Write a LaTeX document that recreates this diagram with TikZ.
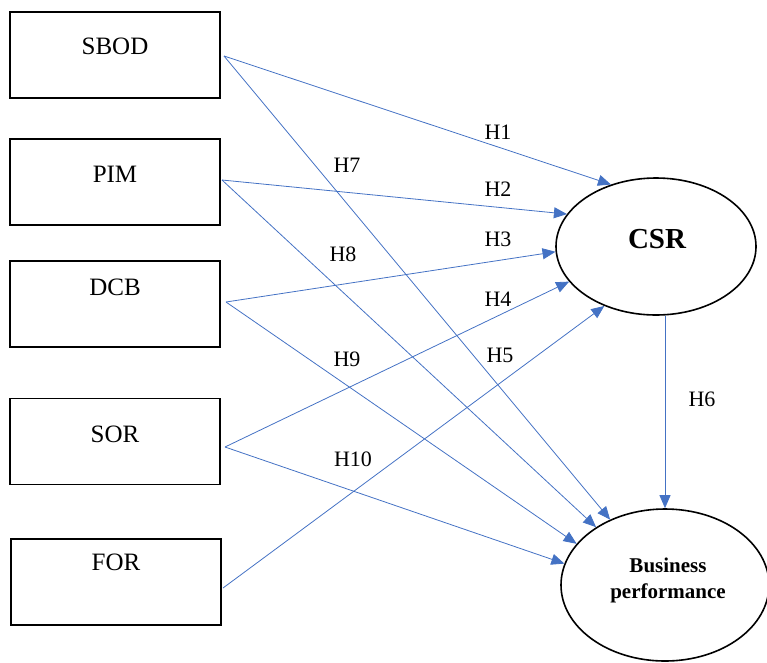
\documentclass[tikz,border=0pt]{standalone}
\usepackage{fontspec}
\setmainfont{Liberation Serif}
\usetikzlibrary{arrows.meta,shapes.geometric}
\definecolor{linkblue}{HTML}{4472C4}
\begin{document}
\begin{tikzpicture}[x=1pt,y=-1pt,
  varbox/.style={draw=black, line width=1.6pt, minimum width=210pt, minimum height=86pt, inner sep=0pt},
  construct/.style={draw=black, line width=1.6pt, ellipse, inner sep=0pt},
  boxtext/.style={font=\fontsize{25}{30}\selectfont, inner sep=0pt},
  hyp/.style={font=\fontsize{22}{26}\selectfont, inner sep=0pt},
  link/.style={draw=linkblue, line width=0.8pt, -{Triangle[length=13pt,width=11pt]}},
]
\useasboundingbox (0,0) rectangle (767,662);

% independent variables
\node[varbox] (sbod) at (115,55) {};
\node[varbox] (pim)  at (115,182) {};
\node[varbox] (dcb)  at (115,304) {};
\node[varbox] (sor)  at (115,441.5) {};
\node[varbox] (for)  at (116,582) {};

\node[boxtext] (sbodt) at (115,46) {SBOD};
\node[boxtext] (pimt)  at (115,174) {PIM};
\node[boxtext] (dcbt)  at (115,287) {DCB};
\node[boxtext] (sort)  at (115,434) {SOR};
\node[boxtext] (fort)  at (116,562) {FOR};

% mediator and outcome
\node[construct, minimum width=200pt, minimum height=137pt] (csr) at (656,246.5) {};
\node[font=\fontsize{29}{34}\selectfont\bfseries, inner sep=0pt] (csrt) at (657,239) {CSR};
\node[construct, minimum width=208pt, minimum height=152pt] (bp) at (665,585) {};
\node[font=\fontsize{21}{26}\selectfont\bfseries, inner sep=0pt, anchor=base] (bpt1) at (668,572) {Business};
\node[font=\fontsize{21}{26}\selectfont\bfseries, inner sep=0pt, anchor=base] (bpt2) at (668,598) {performance};

% line origins just right of each box
\coordinate (o1) at (224,56);
\coordinate (o2) at (222,180);
\coordinate (o3) at (226,302);
\coordinate (o4) at (225,447);
\coordinate (o5) at (223,588);

% paths to CSR
\draw[link] (o1) -- (csr.126.3);
\draw[link] (o2) -- (csr.160.2);
\draw[link] (o3) -- (csr.183);
\draw[link] (o4) -- (csr.202.9);
\draw[link] (o5) -- (csr.229.3);

% paths to business performance
\draw[link] (o1) -- (bp.130.1);
\draw[link] (o2) -- (bp.140.8);
\draw[link] (o3) -- (bp.155.1);
\draw[link] (o4) -- (bp.168.9);
\draw[link] (csr.south -| bp.north) -- (bp.north);

% hypothesis labels
\node[hyp] (h1)  at (498,132) {H1};
\node[hyp] (h2)  at (498,189) {H2};
\node[hyp] (h3)  at (498,239) {H3};
\node[hyp] (h4)  at (498,299) {H4};
\node[hyp] (h5)  at (500,355) {H5};
\node[hyp] (h6)  at (702,399) {H6};
\node[hyp] (h7)  at (347,165) {H7};
\node[hyp] (h8)  at (343,254) {H8};
\node[hyp] (h9)  at (347,359) {H9};
\node[hyp] (h10) at (353,459) {H10};
\end{tikzpicture}
\end{document}
